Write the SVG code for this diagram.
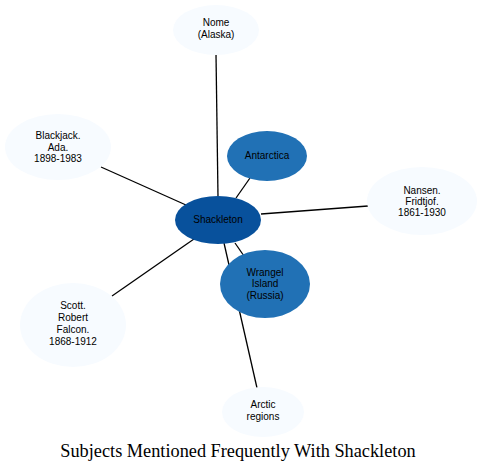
<svg xmlns="http://www.w3.org/2000/svg" width="478" height="472" viewBox="0 0 478 472">
<style>
.e{stroke:#000;stroke-width:1.3;fill:none}
.lt{fill:#f7fbff}
.md{fill:#2171b5}
.dk{fill:#08519c}
text{font-family:"Liberation Sans",Arial,sans-serif;font-size:10px;text-anchor:middle;fill:#000}
.title{font-family:"Liberation Serif","Times New Roman",serif;font-size:18.3px}
</style>
<rect width="478" height="472" fill="#fff"/>
<g id="connectors">
<line class="e" x1="216" y1="54" x2="218" y2="197"/>
<line class="e" x1="101" y1="167" x2="186" y2="205"/>
<line class="e" x1="250" y1="178" x2="236" y2="198"/>
<line class="e" x1="261" y1="214" x2="368" y2="206"/>
<line class="e" x1="112" y1="296" x2="194" y2="239"/>
<line class="e" x1="235" y1="243" x2="244" y2="256"/>
<line class="e" x1="224" y1="243" x2="257" y2="388"/>
</g>
<g id="nome"><ellipse class="lt" cx="216" cy="30" rx="43" ry="25"/><text x="216" y="26">Nome</text><text x="216" y="38">(Alaska)</text></g>
<g id="blackjack"><ellipse class="lt" cx="58" cy="147" rx="53" ry="33"/><text x="58" y="139">Blackjack.</text><text x="58" y="151">Ada.</text><text x="58" y="162">1898-1983</text></g>
<g id="antarctica"><ellipse class="md" cx="267" cy="156" rx="40" ry="25"/><text x="267" y="159">Antarctica</text></g>
<g id="nansen"><ellipse class="lt" cx="422" cy="201" rx="55" ry="34"/><text x="422" y="194">Nansen.</text><text x="422" y="205">Fridtjof.</text><text x="422" y="216">1861-1930</text></g>
<g id="scott"><ellipse class="lt" cx="73" cy="325" rx="53" ry="42"/><text x="73" y="309">Scott.</text><text x="73" y="321">Robert</text><text x="73" y="333">Falcon.</text><text x="73" y="345">1868-1912</text></g>
<g id="arctic"><ellipse class="lt" cx="263" cy="412" rx="41" ry="25"/><text x="263" y="408">Arctic</text><text x="263" y="420">regions</text></g>
<g id="wrangel"><ellipse class="md" cx="265" cy="284" rx="45" ry="34"/><text x="265" y="276">Wrangel</text><text x="265" y="287">Island</text><text x="265" y="299">(Russia)</text></g>
<g id="shackleton"><ellipse class="dk" cx="218" cy="220" rx="43" ry="24"/><text x="218" y="223">Shackleton</text></g>
<text class="title" x="238" y="457">Subjects Mentioned Frequently With Shackleton</text>
</svg>
